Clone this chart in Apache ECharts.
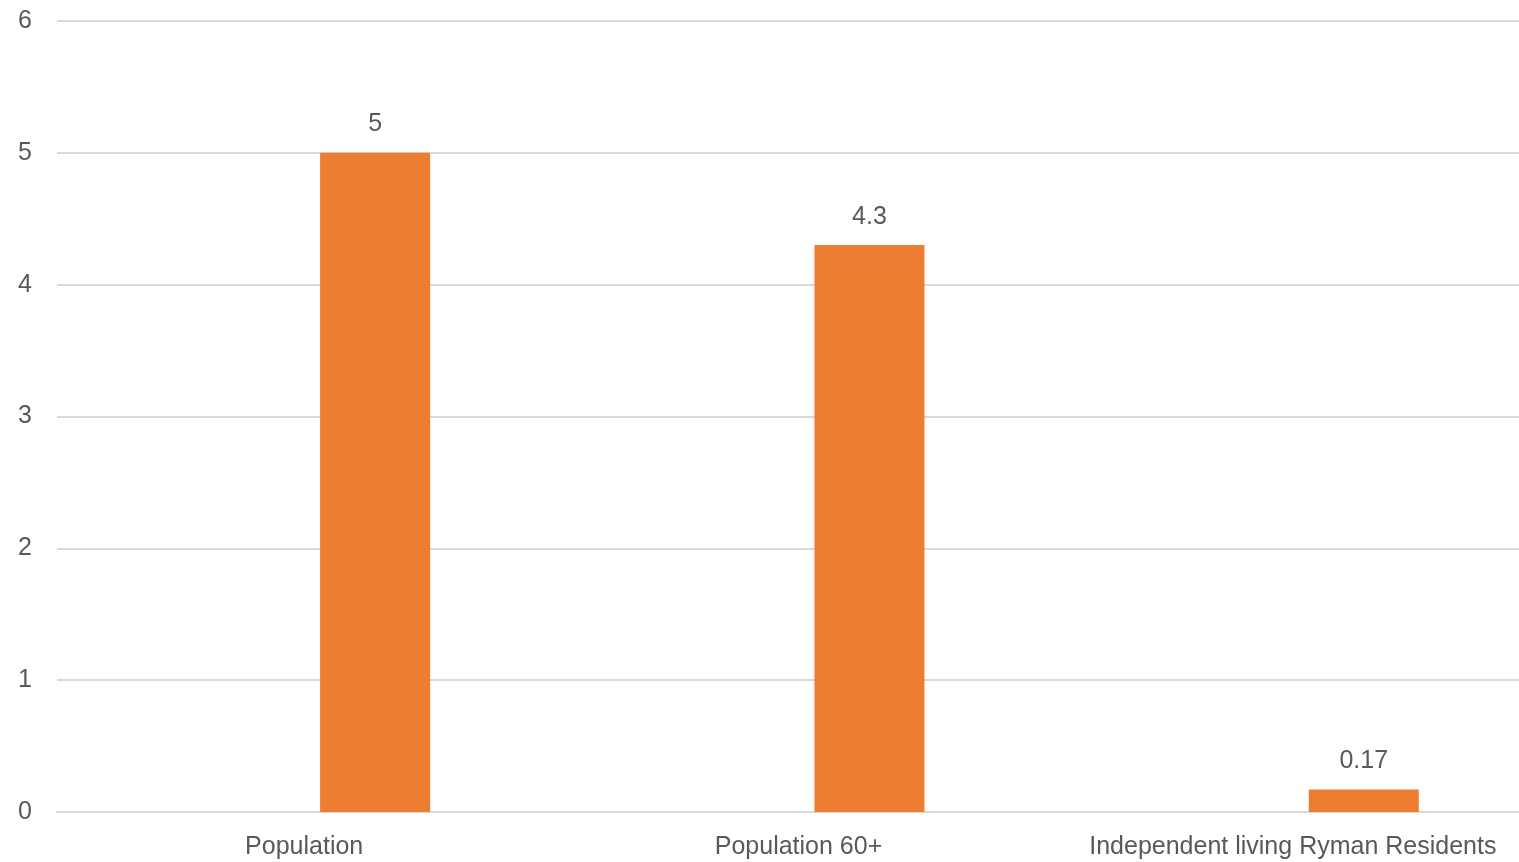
<!DOCTYPE html>
<html>
<head>
<meta charset="utf-8">
<script src="https://cdn.jsdelivr.net/npm/echarts@6/dist/echarts.min.js"></script>
<style>
html,body{margin:0;padding:0;background:#fff;}
#c{width:1519px;height:862px;}
</style>
</head>
<body>
<div id="c"></div>
<script>
const categories = ['Population', 'Population 60+', 'Independent living Ryman Residents'];
const placeholderValues = [null, null, null];
const values = [5, 4.3, 0.17];
const yTicks = {min: 0, max: 6, interval: 1};

const FONT = 'Liberation Sans';
const chart = echarts.init(document.getElementById('c'), null, {renderer: 'canvas'});
chart.setOption({
  animation: false,
  backgroundColor: '#ffffff',
  grid: {left: 57, right: -21, top: 21, bottom: 50, containLabel: false, outerBoundsMode: 'none'},
  xAxis: {
    type: 'category',
    data: categories,
    axisLine: {show: true, lineStyle: {color: '#d9d9d9', width: 2}},
    axisTick: {show: false},
    axisLabel: {color: '#595959', fontFamily: FONT, fontSize: 25, margin: 23, interval: 0}
  },
  yAxis: {
    type: 'value',
    min: yTicks.min, max: yTicks.max, interval: yTicks.interval,
    axisLine: {show: false},
    axisTick: {show: false},
    splitLine: {lineStyle: {color: '#d9d9d9', width: 2}},
    axisLabel: {color: '#595959', fontFamily: FONT, fontSize: 25, margin: 25}
  },
  series: [
    {type: 'bar', name: 'blank', data: placeholderValues, barWidth: 110, barGap: '29%'},
    {type: 'bar', name: 'value', data: values, barWidth: 110, barGap: '29%',
     itemStyle: {color: '#ED7D31'},
     label: {show: true, position: 'top', distance: 16, color: '#595959', fontFamily: FONT, fontSize: 25}}
  ]
});
</script>
</body>
</html>
